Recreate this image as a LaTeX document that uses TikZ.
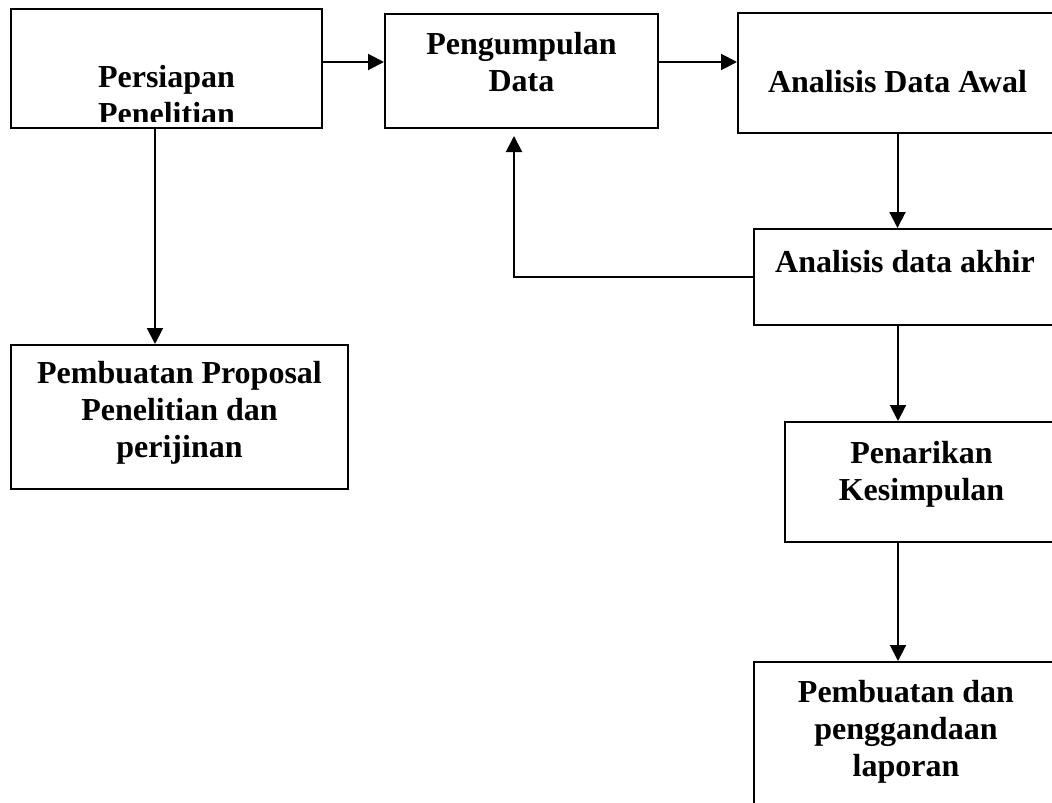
\documentclass[tikz,border=0pt]{standalone}
\usepackage{fontspec}
\setmainfont{Liberation Serif}
\usepackage{tikz}
\usetikzlibrary{positioning,calc}
\usetikzlibrary{arrows.meta}
\tikzset{
  box/.style={draw=black,line width=2pt,inner sep=0pt,fill=none},
  txt/.style={anchor=base,align=flush center,text width=340pt,inner sep=0pt,
    font=\fontsize{32}{37}\selectfont\bfseries},
  arr/.style={draw=black,line width=2pt,-{Triangle[length=16pt,width=16pt]}},
}

\begin{document}
\begin{tikzpicture}[x=1pt,y=-1pt]
\useasboundingbox (0,0) rectangle (1052,803);
\clip (0,0) rectangle (1052,803);
\node[box,minimum width=311,minimum height=119] (prep) at (166.5,68.5) {};
\node[box,minimum width=273,minimum height=114] (collect) at (521.5,71) {};
\node[box,minimum width=319,minimum height=120] (awal) at (897.5,73) {};
\node[box,minimum width=302,minimum height=96] (akhir) at (905,277) {};
\node[box,minimum width=337,minimum height=144] (proposal) at (179.5,417) {};
\node[box,minimum width=273,minimum height=120] (tarik) at (921.5,482) {};
\node[box,minimum width=304,minimum height=168] (laporan) at (906,746) {};
% texts
\begin{scope}
\clip ([yshift=8pt]prep.south west) rectangle (prep.north east);
\node[txt] (prept) at (166.5,87) {Persiapan\\Penelitian};
\end{scope}
\node[txt] (collectt) at (521.5,54) {Pengumpulan\\Data};
\node[txt] (awalt) at (897.5,92) {Analisis Data Awal};
\node[txt] (akhirt) at (905,272) {Analisis data akhir};
\node[txt] (proposalt) at (179.5,383) {Pembuatan Proposal\\Penelitian dan\\perijinan};
\node[txt] (tarikt) at (921.5,463) {Penarikan\\Kesimpulan};
\node[txt] (laporant) at (906,702) {Pembuatan dan\\penggandaan\\laporan};
% arrows
\draw[arr] ([yshift=6.5pt]prep.east) -- ([yshift=9pt]collect.west);
\draw[arr] ([yshift=9pt]collect.east) -- ([yshift=11pt]awal.west);
\draw[arr] (awal.south) -- (awal.south |- akhir.north);
\draw[arr] ([xshift=-7pt]akhir.south) -- ([xshift=-7pt]akhir.south |- tarik.north);
\draw[arr] ([xshift=-23.5pt]tarik.south) -- ([xshift=-23.5pt]tarik.south |- laporan.north);
\draw[arr] ([xshift=-11.5pt]prep.south) -- ([xshift=-11.5pt]prep.south |- proposal.north);
\draw[arr] (akhir.west) -| ([xshift=-7.5pt,yshift=-7pt]collect.south);
\end{tikzpicture}
\end{document}
